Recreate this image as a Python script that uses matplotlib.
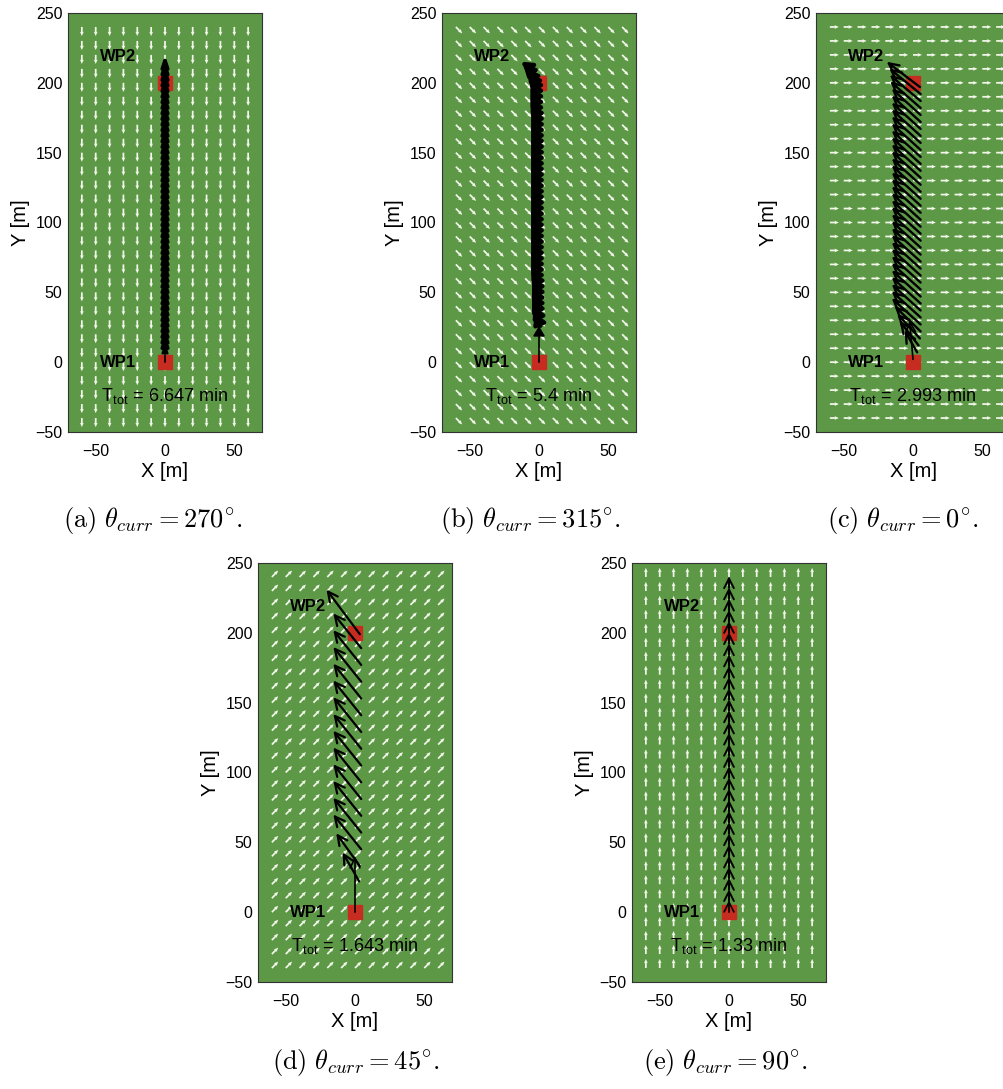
import numpy as np
import matplotlib
matplotlib.use('Agg')
import matplotlib.pyplot as plt
from matplotlib.patches import FancyArrowPatch

plt.rcParams['font.family'] = ['Liberation Sans', 'DejaVu Sans']
plt.rcParams['mathtext.fontset'] = 'cm'

# current field grid [m] and current direction of each case [deg]
field_x = [-60, -50, -40, -30, -20, -10, 0, 10, 20, 30, 40, 50, 60]
field_y = [-40, -30, -20, -10, 0, 10, 20, 30, 40, 50, 60, 70, 80, 90, 100, 110,
           120, 130, 140, 150, 160, 170, 180, 190, 200, 210, 220, 230, 240]
field_len = 6.5
curr_theta = [270, 315, 0, 45, 90]

# waypoints
wp_x = [0, 0]
wp_y = [0, 200]
wp_names = ['WP1', 'WP2']
wp_label_x = -34
wp_label_y = [0, 219]

t_tot = ['6.647', '5.4', '2.993', '1.643', '1.33']
labels = ['(a)', '(b)', '(c)', '(d)', '(e)']

# vehicle heading arrows: tail x, tail y, heading [deg], length [m]
a_x = 0
a_y = [0, 8, 12, 16, 20, 24, 28, 32, 36, 40, 44, 48, 52, 56, 60, 64, 68, 72, 76,
       80, 84, 88, 92, 96, 100, 104, 108, 112, 116, 120, 124, 128, 132, 136, 140,
       144, 148, 152, 156, 160, 164, 168, 172, 176, 180, 184, 188, 192, 196, 200,
       204, 208]
a_hdg = 90
a_len = [14, 12, 12, 12, 12, 12, 12, 12, 12, 12, 12, 12, 12, 12, 12, 12, 12, 12, 12,
         12, 12, 12, 12, 12, 12, 12, 12, 12, 12, 12, 12, 12, 12, 12, 12, 12, 12, 12,
         12, 12, 12, 12, 12, 12, 12, 12, 12, 12, 12, 12, 12, 12]

b_x = [0, 1, 1, 1, 1, 1, 1, 1, 1,
       0.5, 0.5, 0.5, 0.5, 0.5, 0.5, 0.5, 0.5, 0.5, 0.5,
       0.5, 0.5, 0.5, 0.5, 0.5, 0.5, 0.5, 0.5, 0.5, 0.5,
       0.5, 0.5, 0.5, 0.5, 0.5, 0.5, 0.5, 0.5, 0.5, 0.5,
       0, 0, 0, 0, 0, -1, -2.5, -4, -5.5]
b_y = [0, 26, 30, 34, 38, 42, 46, 50, 54, 58, 62, 66, 70, 74, 78, 82, 86,
       90, 94, 98, 102, 106, 110, 114, 118, 122, 126, 130, 134, 138, 142, 146, 150,
       154, 158, 162, 166, 170, 174, 178, 182, 186, 190, 194, 198, 202, 206, 210]
b_hdg = [90, 114, 117, 119, 120, 120, 120, 120, 120,
         120, 120, 120, 120, 120, 120, 120, 120, 120, 120,
         120, 120, 120, 120, 120, 120, 120, 120, 120, 120,
         120, 120, 120, 120, 120, 120, 120, 120, 120, 120,
         120, 120, 120, 120, 120, 124, 130, 137, 145]
b_len = [26, 10, 11, 12, 12, 12, 12, 12, 12,
         12, 12, 12, 12, 12, 12, 12, 12, 12, 12,
         12, 12, 12, 12, 12, 12, 12, 12, 12, 12,
         12, 12, 12, 12, 12, 12, 12, 12, 12, 12,
         12, 12, 12, 12, 12, 11, 10, 10, 9]

c_x = [0, 3, 4, 5, 5.5, 5.5, 5.5, 5.5, 5.5, 5.5, 5.5, 5.5, 5.5, 5.5, 5.5, 5.5, 5.5,
       5.5, 5.5, 5.5, 5.5, 5.5, 5.5, 5.5, 5.5, 5.5, 5.5, 5.5, 5.5, 5.5, 5.5, 5.5,
       5.5, 5.5, 5.5, 5.5, 5.5, 5.5, 5.5, 5]
c_y = [2, 7, 12, 17, 22, 27, 32, 37, 42, 47, 52, 57, 62, 67, 72, 77, 82, 87, 92, 97,
       102, 107, 112, 117, 122, 127, 132, 137, 142, 147, 152, 157, 162, 167, 172,
       177, 182, 187, 192, 197]
c_hdg = [95, 120, 128, 133, 136, 138, 138, 138, 138, 138, 138, 138, 138, 138, 138,
         138, 138, 138, 138, 138, 138, 138, 138, 138, 138, 138, 138, 138, 138, 138,
         138, 138, 138, 138, 138, 138, 139, 140, 141, 143]
c_len = [28, 18, 22, 24, 26, 28, 28, 28, 28, 28, 28, 28, 28, 28, 28, 28, 28, 28, 28,
         28, 28, 28, 28, 28, 28, 28, 28, 28, 28, 28, 28, 28, 28, 28, 28, 28, 29, 29,
         29, 30]

d_x = [0, 3, 3.5, 4.5, 4.5, 4.5, 4.5, 4.5, 4.5, 4.5, 4.5, 4.5, 4.5, 4.5, 4.5, 4.5, 3.5]
d_y = [0, 22, 33, 45, 57, 69, 81, 93, 105, 117, 129, 141, 153, 165, 177, 189, 199]
d_hdg = [90, 120, 126, 129, 129, 129, 129, 129, 129, 129, 129, 129, 129, 129, 129,
         129, 127]
d_len = [40, 24, 29, 32, 32, 32, 32, 32, 32, 32, 32, 32, 32, 32, 32, 32, 40]

e_x = 0
e_y = [0, 8, 16, 24, 32, 40, 48, 56, 64, 72, 80, 88, 96, 104, 112, 120, 128, 136,
       144, 152, 160, 168, 176, 184, 192, 200, 208, 216, 224, 232]
e_hdg = 90
e_len = 8.5

green = '#5d9847'
red = '#c62d20'


def drawPanel(fig, rect, theta, tx, ty, hdg, alen, ttot, label, cap_xy, style, lw):
    ax = fig.add_axes(rect)
    ax.set_facecolor(green)

    # current field
    X, Y = np.meshgrid(field_x, field_y)
    U = np.full(X.shape, field_len * np.cos(np.radians(theta)))
    V = np.full(X.shape, field_len * np.sin(np.radians(theta)))
    ax.quiver(X, Y, U, V, angles='xy', scale_units='xy', scale=1, color='#f2f7ea',
              width=0.009, headwidth=2.2, headlength=2.5, headaxislength=2.2, zorder=1)

    ax.plot(wp_x, wp_y, 's', ms=10.5, color=red, mec=red, zorder=2)
    for name, ly in zip(wp_names, wp_label_y):
        ax.text(wp_label_x, ly, name, fontsize=12, fontweight='bold', ha='center',
                va='center', zorder=4)

    # vehicle heading arrows
    tx, ty, hdg, alen = np.broadcast_arrays(np.asarray(tx, float), np.asarray(ty, float),
                                            np.asarray(hdg, float), np.asarray(alen, float))
    ux = alen * np.cos(np.radians(hdg))
    uy = alen * np.sin(np.radians(hdg))
    for i, (x0, y0, dx, dy) in enumerate(zip(tx, ty, ux, uy)):
        # first arrow is only the thin start segment
        w = 1.2 if i == 0 else lw
        arr = FancyArrowPatch((x0, y0), (x0 + dx, y0 + dy), arrowstyle=style,
                              mutation_scale=10, lw=w, color='black',
                              shrinkA=0, shrinkB=0, zorder=3)
        ax.add_patch(arr)

    ax.text(0, -25, r'T$_{\mathregular{tot}}$ = ' + ttot + ' min', fontsize=13,
            ha='center', va='center', zorder=4)

    ax.set_xlim(-70, 70)
    ax.set_ylim(-50, 250)
    ax.set_xticks([-50, 0, 50])
    ax.set_yticks([-50, 0, 50, 100, 150, 200, 250])
    ax.tick_params(axis='both', length=0, labelsize=11.5)
    ax.tick_params(axis='x', pad=9)
    ax.tick_params(axis='y', pad=4)
    ax.set_xlabel('X [m]', fontsize=14.5, labelpad=2)
    ax.set_ylabel('Y [m]', fontsize=14.5, labelpad=4)
    for s in ax.spines.values():
        s.set_linewidth(0.8)
        s.set_color('#333333')

    fig.text(cap_xy[0], cap_xy[1],
             r'$\mathrm{' + label + r'}\ \theta_{curr} = ' + str(theta) + r'^{\circ}.$',
             fontsize=19, ha='center', va='center')
    return ax


fig = plt.figure(figsize=(10.04, 10.89), dpi=100)
W, H = 1004.0, 1089.0
aw, ah = 194 / W, 419 / H
top_y = 1 - 432 / H
bot_y = 1 - 982 / H

open_head = '->,head_length=0.7,head_width=0.35'

drawPanel(fig, [68 / W, top_y, aw, ah], curr_theta[0], a_x, a_y, a_hdg, a_len,
          t_tot[0], labels[0], (153 / W, 1 - 520 / H),
          '-|>,head_length=0.6,head_width=0.2', 2.6)
drawPanel(fig, [442 / W, top_y, aw, ah], curr_theta[1], b_x, b_y, b_hdg, b_len,
          t_tot[1], labels[1], (530 / W, 1 - 520 / H),
          '-|>,head_length=0.6,head_width=0.35', 3.0)
drawPanel(fig, [816 / W, top_y, aw, ah], curr_theta[2], c_x, c_y, c_hdg, c_len,
          t_tot[2], labels[2], (903 / W, 1 - 520 / H), open_head, 1.7)
drawPanel(fig, [258 / W, bot_y, aw, ah], curr_theta[3], d_x, d_y, d_hdg, d_len,
          t_tot[3], labels[3], (356 / W, 1 - 1062 / H), open_head, 1.6)
drawPanel(fig, [632 / W, bot_y, aw, ah], curr_theta[4], e_x, e_y, e_hdg, e_len,
          t_tot[4], labels[4], (725 / W, 1 - 1062 / H), open_head, 1.4)

fig.savefig('out.png', dpi=100)
